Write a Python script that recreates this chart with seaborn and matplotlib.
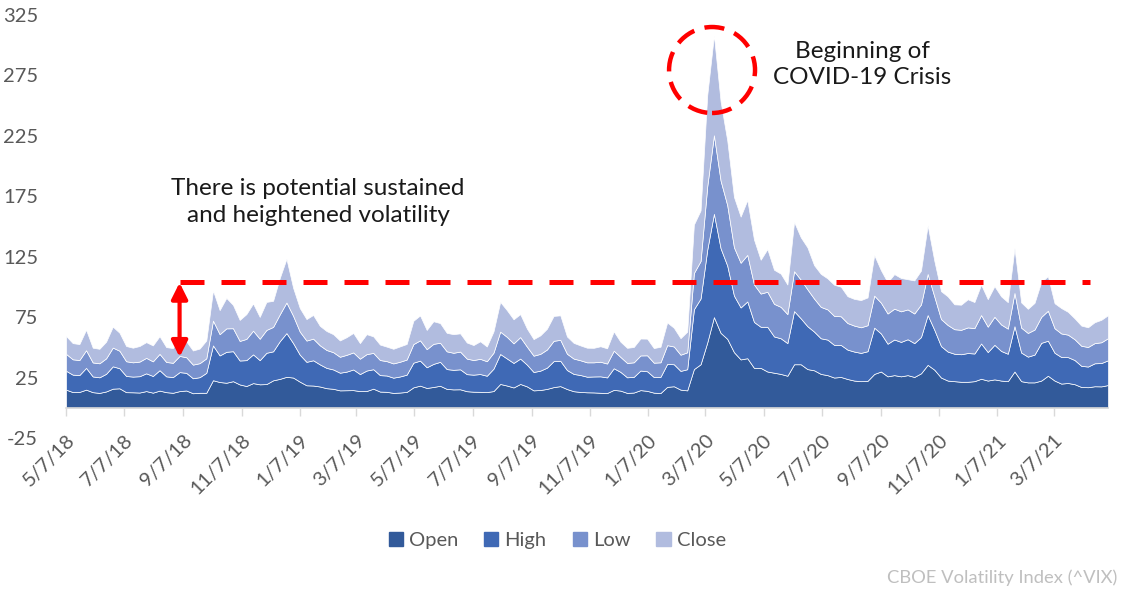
import numpy as np
import pandas as pd
import matplotlib
matplotlib.use("Agg")
import matplotlib.pyplot as plt
import matplotlib.patches as mpatches
import seaborn as sns

# weekly VIX readings (Monday of each week)
start_date = "2018-05-07"
n_weeks = 157

open_vals = [
    15.0, 13.0, 13.1, 15.0, 12.9, 12.3, 13.5, 15.8, 16.1, 12.9,
    12.8, 12.6, 13.8, 12.5, 14.2, 12.9, 12.4, 13.8, 14.3, 12.0,
    12.4, 12.4, 22.8, 21.3, 20.7, 22.0, 19.3, 18.0, 20.4, 19.4,
    19.6, 22.7, 23.9, 25.6, 25.0, 21.6, 18.6, 18.4, 17.6, 16.2,
    15.7, 14.4, 14.5, 14.6, 13.8, 13.9, 15.8, 13.4, 13.2, 12.3,
    12.6, 13.1, 16.9, 18.3, 16.4, 17.2, 18.2, 15.6, 15.2, 15.3,
    13.7, 13.3, 13.2, 13.0, 13.8, 19.7, 18.4, 16.8, 19.7, 17.7,
    14.4, 14.7, 15.6, 17.1, 17.9, 15.5, 13.7, 13.1, 12.8, 12.7,
    12.4, 12.2, 14.8, 14.2, 12.3, 12.6, 14.6, 14.0, 12.5, 12.2,
    17.3, 17.8, 15.0, 14.4, 32.0, 36.0, 54.0, 75.0, 62.0, 57.0,
    46.0, 40.0, 41.0, 33.0, 33.0, 30.0, 29.0, 28.0, 26.5, 36.0,
    36.0, 32.0, 31.0, 28.0, 27.0, 25.0, 25.5, 23.8, 22.5, 22.0,
    22.3, 28.0, 30.0, 26.0, 27.0, 26.0, 27.0, 25.5, 28.5, 35.5,
    31.5, 25.0, 22.5, 22.0, 21.5, 21.5, 22.0, 24.0, 22.5, 23.5,
    22.5, 22.0, 30.0, 22.0, 21.0, 21.0, 22.5, 26.5, 22.5, 20.0,
    20.5, 19.5, 17.2, 17.0, 17.8, 17.7, 18.8,
]
high_vals = [
    15.6, 14.4, 14.0, 18.0, 13.0, 12.9, 14.6, 18.5, 16.6, 13.4,
    13.0, 13.5, 14.7, 13.8, 16.9, 13.1, 13.0, 15.7, 14.6, 12.4,
    12.9, 16.5, 28.8, 22.0, 25.6, 24.8, 19.8, 21.4, 23.8, 20.0,
    25.9, 24.0, 31.2, 36.2, 28.5, 22.3, 19.4, 20.9, 18.3, 16.8,
    16.0, 14.6, 15.4, 17.1, 14.1, 16.9, 16.1, 13.6, 13.5, 12.6,
    13.3, 14.3, 20.4, 20.7, 17.1, 19.1, 19.8, 16.4, 16.2, 16.5,
    14.1, 14.1, 14.7, 13.5, 18.6, 24.8, 22.4, 20.3, 21.0, 18.0,
    15.2, 16.0, 17.6, 21.5, 21.0, 15.7, 14.3, 14.0, 12.9, 13.2,
    13.6, 12.9, 17.9, 15.5, 12.9, 13.0, 16.2, 16.2, 12.9, 13.4,
    19.0, 18.2, 15.5, 17.5, 49.5, 54.4, 76.8, 85.5, 70.0, 60.6,
    46.8, 43.0, 47.0, 38.0, 34.0, 37.0, 30.0, 29.5, 27.0, 44.0,
    38.0, 35.5, 32.0, 29.5, 29.4, 27.0, 26.5, 24.3, 24.0, 23.4,
    24.5, 38.3, 31.5, 27.0, 29.5, 28.5, 29.7, 28.0, 30.0, 41.2,
    33.0, 26.0, 24.0, 22.7, 22.8, 23.8, 22.9, 29.2, 23.6, 28.6,
    24.5, 22.7, 37.5, 23.7, 21.3, 23.0, 31.2, 29.0, 23.0, 22.0,
    21.4, 20.0, 17.5, 17.1, 19.0, 19.3, 20.5,
]
low_vals = [
    14.0, 12.7, 12.4, 14.6, 11.6, 11.6, 12.8, 15.5, 14.5, 12.2,
    11.8, 12.1, 12.8, 12.1, 13.5, 11.9, 11.8, 13.4, 12.9, 11.3,
    11.6, 12.0, 20.5, 17.6, 19.4, 19.0, 16.2, 17.6, 19.6, 17.7,
    18.9, 20.2, 22.2, 25.3, 22.6, 19.1, 17.6, 17.9, 15.8, 14.8,
    14.3, 13.2, 13.9, 14.1, 12.7, 13.6, 13.5, 12.5, 11.9, 11.8,
    12.2, 12.5, 15.4, 16.8, 15.0, 16.6, 15.8, 14.7, 14.1, 14.7,
    12.9, 12.1, 12.6, 12.0, 13.2, 18.5, 17.9, 16.2, 17.8, 14.9,
    13.5, 13.9, 15.0, 16.8, 17.3, 13.5, 12.7, 12.2, 11.9, 11.7,
    12.1, 11.5, 14.5, 12.4, 11.9, 12.0, 12.5, 13.2, 11.9, 12.0,
    15.5, 14.7, 13.4, 14.0, 30.0, 31.0, 52.5, 65.0, 56.0, 50.0,
    40.0, 37.0, 38.5, 31.0, 27.5, 29.0, 27.0, 26.0, 24.0, 33.0,
    32.0, 30.5, 27.3, 26.0, 25.0, 24.0, 23.7, 22.0, 21.5, 21.2,
    21.5, 26.5, 25.5, 25.0, 25.5, 25.3, 24.7, 24.5, 27.0, 34.0,
    27.5, 22.4, 22.0, 20.3, 20.2, 21.2, 21.0, 23.5, 21.0, 23.2,
    21.9, 20.8, 27.5, 20.6, 19.6, 20.7, 21.5, 24.8, 20.3, 19.5,
    18.6, 17.2, 16.6, 16.2, 16.7, 17.2, 18.3,
]
close_vals = [
    14.8, 13.4, 13.2, 17.0, 12.2, 12.0, 13.8, 17.3, 14.9, 12.6,
    12.1, 12.9, 13.0, 13.2, 14.6, 12.3, 12.2, 14.9, 13.2, 11.7,
    12.1, 14.8, 25.0, 19.9, 25.2, 19.3, 17.4, 20.5, 22.5, 18.1,
    23.2, 21.6, 30.1, 36.1, 23.2, 19.5, 17.8, 19.6, 16.1, 15.7,
    14.9, 13.5, 14.6, 16.1, 12.9, 16.5, 13.7, 12.8, 12.0, 12.1,
    12.7, 12.9, 19.3, 20.6, 15.9, 18.7, 16.3, 15.3, 15.4, 15.1,
    13.3, 12.4, 14.5, 12.2, 17.6, 24.6, 22.1, 19.9, 19.0, 15.0,
    13.7, 15.3, 17.2, 20.6, 20.3, 14.3, 13.0, 12.3, 12.1, 12.0,
    12.8, 12.6, 16.0, 12.6, 12.5, 12.7, 14.0, 13.8, 12.1, 12.9,
    18.8, 15.5, 13.7, 17.1, 40.1, 41.9, 75.5, 82.7, 65.5, 53.5,
    41.7, 38.2, 45.4, 37.2, 28.0, 35.3, 28.2, 27.5, 24.5, 40.8,
    35.1, 34.7, 27.7, 27.3, 25.7, 25.8, 24.5, 22.2, 22.1, 22.5,
    23.0, 33.6, 26.9, 25.8, 28.6, 27.6, 25.0, 27.4, 28.0, 40.3,
    29.6, 23.1, 23.7, 20.6, 20.8, 23.3, 21.6, 25.2, 22.8, 25.3,
    23.3, 21.9, 37.2, 20.9, 20.0, 22.1, 28.9, 28.6, 20.7, 21.0,
    18.9, 17.3, 16.7, 16.3, 17.3, 18.6, 19.0,
]

series_names = ["Open", "High", "Low", "Close"]
series_colors = ["#325a9a", "#3f69b5", "#7891cd", "#b1bcdf"]

tick_dates = ["2018-05-07", "2018-07-07", "2018-09-07", "2018-11-07",
              "2019-01-07", "2019-03-07", "2019-05-07", "2019-07-07",
              "2019-09-07", "2019-11-07", "2020-01-07", "2020-03-07",
              "2020-05-07", "2020-07-07", "2020-09-07", "2020-11-07",
              "2021-01-07", "2021-03-07"]
tick_labels = ["5/7/18", "7/7/18", "9/7/18", "11/7/18", "1/7/19", "3/7/19",
               "5/7/19", "7/7/19", "9/7/19", "11/7/19", "1/7/20", "3/7/20",
               "5/7/20", "7/7/20", "9/7/20", "11/7/20", "1/7/21", "3/7/21"]

df = pd.DataFrame({
    "date": pd.date_range(start_date, periods=n_weeks, freq="7D"),
    "Open": open_vals,
    "High": high_vals,
    "Low": low_vals,
    "Close": close_vals,
})

sns.set_theme(style="white")
plt.rcParams["font.family"] = ["Lato", "DejaVu Sans"]
plt.rcParams["axes.unicode_minus"] = False

fig = plt.figure(figsize=(11.21, 5.89), dpi=100)
ax = fig.add_axes([0.0589, 0.2564, 0.9295, 0.7181])

ax.stackplot(df["date"], [df[s] for s in series_names], labels=series_names,
             colors=series_colors, edgecolor="white", linewidth=0.5)

# axis line sits at zero (set before the tick styling, it resets the ticks)
sns.despine(ax=ax, left=True, top=True, right=True)
ax.spines["bottom"].set_position(("data", 0))
ax.spines["bottom"].set_color("#d9d9d9")
ax.spines["bottom"].set_linewidth(1.2)

ax.set_xlim(df["date"].iloc[0], df["date"].iloc[-1])
ax.set_ylim(-25, 325)
ax.set_yticks(np.arange(-25, 326, 50))
ax.tick_params(axis="y", length=0, pad=20, labelsize=14.5, labelcolor="#595959")

ax.set_xticks(pd.to_datetime(tick_dates))
ax.set_xticklabels(tick_labels)
ax.tick_params(axis="x", direction="out", length=6, width=1, color="#d9d9d9",
               pad=11, labelsize=14.5, labelcolor="#595959", bottom=True,
               labelrotation=45)
plt.setp(ax.get_xticklabels(), ha="right", va="top", rotation_mode="anchor")
ax.set_xlabel("")
ax.set_ylabel("")

# threshold line and arrow
arrow_date = pd.Timestamp("2018-09-03")
line_end = pd.Timestamp("2021-04-14")
ax.plot([arrow_date, line_end], [104, 104], color="#ff0000", lw=3.6,
        dashes=(4.8, 3.4), solid_capstyle="butt", zorder=5)
ax.annotate("", xy=(arrow_date, 42), xytext=(arrow_date, 103.5),
            arrowprops=dict(arrowstyle="<|-|>", color="#ff0000", lw=3,
                            mutation_scale=24, shrinkA=0, shrinkB=0),
            zorder=6)

# circle around the covid peak
circle = mpatches.Ellipse((0.62, 0.870), 0.0825, 0.2033, transform=ax.transAxes,
                          fill=False, edgecolor="#ff0000", lw=3.2,
                          linestyle=(0, (4.5, 2.4)), zorder=6)
ax.add_patch(circle)

ax.text(0.2418, 0.558, "There is potential sustained\nand heightened volatility",
        transform=ax.transAxes, ha="center", va="center", fontsize=17.5,
        color="#1a1a1a", linespacing=1.3)
ax.text(0.764, 0.884, "Beginning of\nCOVID-19 Crisis",
        transform=ax.transAxes, ha="center", va="center", fontsize=17.5,
        color="#1a1a1a", linespacing=1.3)

handles = [mpatches.Patch(color=c, label=n) for n, c in zip(series_names, series_colors)]
leg = fig.legend(handles=handles, loc="center", bbox_to_anchor=(0.497, 0.083),
                 ncol=4, frameon=False, fontsize=14.5, handlelength=0.7,
                 handleheight=0.7, handletextpad=0.3, columnspacing=1.3)
for t in leg.get_texts():
    t.set_color("#595959")

fig.text(0.997, 0.019, "CBOE Volatility Index (^VIX)", ha="right", va="center",
         fontsize=13.2, color="#bfbfbf")

fig.savefig("out.png", dpi=100)
